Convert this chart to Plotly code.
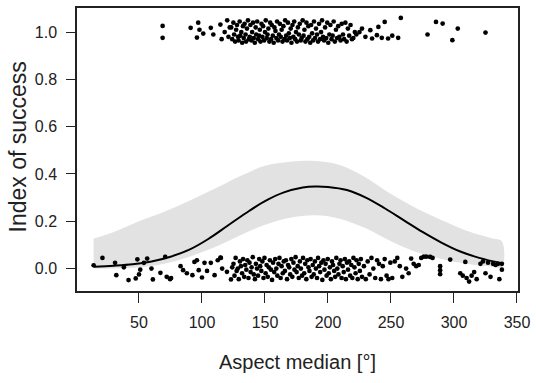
import plotly.graph_objects as go

# ---- data ----
curve_x = [14, 30, 45, 60, 75, 90, 105, 120, 135, 150, 165, 180, 190, 200, 215, 230, 245, 260, 275, 290, 305, 320, 338]
curve_y = [0.008, 0.012, 0.018, 0.030, 0.050, 0.080, 0.125, 0.180, 0.235, 0.285, 0.322, 0.343, 0.347, 0.345, 0.332,
           0.300, 0.255, 0.205, 0.155, 0.110, 0.072, 0.045, 0.022]

band_x = [14, 30, 50, 70, 90, 110, 130, 150, 170, 190, 210, 230, 250, 270, 290, 310, 330, 338]
band_upper = [0.127, 0.155, 0.200, 0.240, 0.287, 0.337, 0.390, 0.435, 0.452, 0.455, 0.437, 0.385, 0.315, 0.255,
              0.205, 0.160, 0.128, 0.115]
band_lower = [0.0, 0.0, 0.005, 0.020, 0.050, 0.090, 0.140, 0.185, 0.215, 0.225, 0.210, 0.170, 0.115, 0.070,
              0.040, 0.020, 0.008, 0.005]

top_x = [68.75, 68.75, 91, 97, 96, 98, 101, 107, 109, 114.6, 115.6, 118, 120, 121, 122,
         123.2, 124.0, 124.9, 125.5, 126.3, 127.1, 127.8, 128.6, 129.0, 129.9, 130.4, 131.2, 131.9, 132.5, 133.1,
         133.8, 134.6, 135.0, 135.7, 136.5, 137.2, 137.9, 138.4, 139.2, 139.8, 140.5, 141.1, 141.9, 142.6, 143.0,
         143.8, 144.5, 145.3, 145.9, 146.4, 147.2, 147.9, 148.5, 149.3, 150.0, 150.6, 151.4, 152.0, 152.7, 153.5,
         154.1, 154.8, 155.4, 156.2, 156.9, 157.5, 158.3, 159.0, 159.6, 160.4, 161.1, 161.8, 162.5, 163.2, 163.9,
         164.6, 165.4, 166.0, 166.8, 167.5, 168.2, 168.9, 169.7, 170.4, 171.0, 171.8, 172.5, 173.2, 174.0, 174.6,
         175.4, 176.1, 176.9, 177.6, 178.4, 179.1, 179.9, 180.6, 181.3, 182.1, 182.9, 183.6, 184.4, 185.1, 185.9,
         186.6, 187.4, 188.2, 188.9, 189.7, 190.5, 191.3, 192.1, 192.9, 193.7, 194.5, 195.3, 196.1, 196.9, 197.7,
         198.6, 199.4, 200.2, 201.1, 201.9, 202.8, 203.7, 204.5, 205.4, 206.3, 207.2, 208.1, 209.0, 210.0, 210.9,
         211.9, 212.8, 213.8, 214.8, 215.8, 216.8, 217.9, 219.0, 220.1, 221.3, 222.5,
         225, 227, 229.7, 233.6, 235, 238.8, 240, 242.7, 245, 247.7, 251, 255.7, 257.8, 279, 285.7, 291, 298.7,
         303, 325]
top_y = [1.026, 0.976, 1.018, 1.04, 0.977, 1.01, 0.994, 1.018, 0.99, 1.032, 0.97, 1.0, 1.05, 0.98, 1.02,
         1.02, 0.97, 1.04, 0.99, 0.96, 1.01, 1.03, 0.98, 0.965, 1.045, 0.985, 1.00, 0.955, 1.025, 0.975,
         1.035, 0.99, 0.96, 1.015, 1.05, 0.97, 0.98, 1.03, 0.965, 1.00, 1.04, 0.975, 0.955, 1.02, 0.99,
         1.045, 0.97, 0.985, 1.01, 0.96, 1.035, 0.98, 1.025, 0.965, 1.00, 1.05, 0.975, 0.99, 1.015, 0.96,
         1.04, 0.97, 1.03, 0.985, 0.955, 1.02, 1.005, 0.975, 1.045, 0.965, 0.99, 1.035, 0.98, 1.01, 0.96,
         1.025, 0.97, 1.05, 0.985, 0.965, 1.04, 0.995, 0.975, 1.015, 0.955, 1.03, 0.98, 1.045, 0.97, 1.00,
         0.96, 1.02, 0.99, 1.035, 0.965, 0.975, 1.05, 0.985, 1.01, 0.96, 1.04, 0.97, 1.025, 0.98, 0.955,
         1.03, 0.995, 0.965, 1.045, 0.975, 1.015, 0.99, 0.96, 1.035, 0.97, 1.00, 1.05, 0.98, 0.965, 1.02,
         0.975, 1.04, 0.955, 0.99, 1.03, 0.97, 0.985, 1.045, 0.96, 1.01, 0.975, 1.025, 0.98, 0.965, 1.035,
         0.99, 0.97, 1.04, 0.96, 1.015, 0.985, 1.03, 0.97, 0.975, 1.00, 0.99,
         1.0, 1.015, 0.98, 1.008, 0.973, 0.987, 1.022, 0.976, 1.043, 0.973, 0.985, 0.976, 1.06, 0.99, 1.043,
         1.036, 0.966, 1.015, 0.998]

bottom_x = [14, 21, 31, 32, 38, 41.7, 47.4, 48.7, 50, 51, 53.9, 56.5, 59.9, 61, 67, 70.8, 72, 74.7, 75.5,
            83, 85, 88, 92.4, 94, 96, 97.4, 100, 102, 104, 107, 110, 112.5, 114.6, 115, 116, 119.8, 123, 124,
            125.0, 125.8, 126.7, 127.5, 128.4, 129.2, 130.1, 130.9, 131.8, 132.6, 133.5, 134.3, 135.2, 136.0,
            136.9, 137.7, 138.6, 139.4, 140.3, 141.1, 142.0, 142.8, 143.7, 144.5, 145.4, 146.2, 147.1, 147.9,
            148.8, 149.6, 150.5, 151.3, 152.2, 153.0, 153.9, 154.7, 155.6, 156.4, 157.3, 158.1, 159.0, 159.8,
            160.7, 161.5, 162.4, 163.2, 164.1, 164.9, 165.8, 166.6, 167.5, 168.3, 169.2, 170.0, 170.9, 171.7,
            172.6, 173.4, 174.3, 175.1, 176.0, 176.8, 177.7, 178.5, 179.4, 180.2, 181.1, 181.9, 182.8, 183.6,
            184.5, 185.3, 186.2, 187.0, 187.9, 188.7, 189.6, 190.4, 191.3, 192.1, 193.0, 193.8, 194.7, 195.5,
            196.4, 197.2, 198.1, 198.9, 199.8, 200.6, 201.5, 202.3, 203.2, 204.0, 204.9, 205.7, 206.6, 207.4,
            208.3, 209.1, 210.0, 210.8, 211.7, 212.5, 213.4, 214.2, 215.1, 215.9, 216.8, 217.6, 218.5, 219.3,
            220.2, 221.0, 221.9, 222.7, 223.6, 224.4, 225.3, 226.1, 227.0, 228.5, 230.0, 231.5, 233.0, 234.5,
            236.0, 237.5, 239.0, 240.5, 242.0, 243.5, 245.0, 246.5, 248.0, 249.5, 251.0, 253.0, 255.0,
            257, 259, 262, 264, 266, 268, 270, 272, 274, 276, 278, 281, 283, 289, 289, 289, 297, 305, 307, 309,
            310, 312, 314, 316, 318, 321, 323, 325, 327, 329, 331, 333, 335, 336, 338, 338]
bottom_y = [0.014, 0.045, 0.024, -0.028, 0.005, -0.049, -0.042, 0.039, -0.025, -0.005, 0.024, 0.042, 0.0, -0.046,
            -0.018, 0.049, -0.035, -0.045, -0.04, 0.01, -0.007, -0.02, -0.028, 0.028, 0.035, -0.007, -0.038, 0.024,
            -0.01, 0.024, -0.028, 0.035, 0.046, 0.045, 0.0, -0.014, -0.046, 0.005,
            0.02, -0.03, 0.045, -0.01, 0.0, -0.045, 0.03, 0.01, -0.02, 0.04, -0.035, 0.015, -0.005, 0.035, -0.04,
            0.025, -0.015, 0.005, 0.048, -0.025, -0.045, 0.02, 0.0, -0.03, 0.04, 0.01, -0.01, 0.03, -0.04, 0.045,
            -0.02, 0.015, -0.035, 0.005, 0.035, -0.005, -0.048, 0.025, -0.015, 0.04, 0.0, -0.03, 0.02, 0.045,
            -0.04, 0.01, -0.02, 0.03, -0.01, 0.035, -0.045, 0.015, 0.005, -0.025, 0.04, -0.035, 0.025, -0.005,
            0.048, -0.015, 0.01, -0.04, 0.03, 0.0, -0.03, 0.045, -0.02, 0.02, -0.045, 0.035, 0.005, -0.01, 0.04,
            -0.035, 0.015, -0.025, 0.03, 0.0, -0.04, 0.045, 0.01, -0.015, 0.025, -0.048, 0.035, -0.005, 0.02,
            -0.03, 0.04, -0.02, 0.005, -0.045, 0.03, 0.015, -0.01, -0.035, 0.045, 0.0, -0.025, 0.02, 0.035,
            -0.04, 0.01, -0.015, 0.04, -0.045, 0.025, -0.005, 0.03, -0.03, 0.015, -0.04, 0.045, 0.005, -0.02,
            0.035, -0.045, 0.02, -0.01, 0.04, -0.035, 0.01, -0.045, 0.03, -0.025, 0.045, 0.0, -0.04, 0.035, 0.02,
            -0.045, 0.01, 0.04, -0.03, -0.045, 0.025, -0.04, 0.03, 0.045,
            0.01, -0.035, 0.0, -0.02, 0.042, 0.02, 0.01, 0.015, 0.045, 0.05, 0.05, 0.049, 0.045, 0.01, -0.007,
            -0.024, 0.038, -0.02, -0.03, 0.028, -0.04, -0.055, -0.03, -0.015, -0.045, 0.02, 0.03, -0.02, 0.025,
            -0.035, 0.02, 0.015, 0.02, -0.045, 0.02, -0.005]

x_ticks = [50, 100, 150, 200, 250, 300, 350]
y_ticks = [0.0, 0.2, 0.4, 0.6, 0.8, 1.0]
y_tick_labels = ["0.0", "0.2", "0.4", "0.6", "0.8", "1.0"]
x_title = "Aspect median [°]"
y_title = "Index of success"

FONT = "Liberation Sans, Arial, sans-serif"

fig = go.Figure()
fig.add_trace(go.Scatter(
    x=band_x + band_x[::-1], y=band_upper + band_lower[::-1],
    fill="toself", fillcolor="#e2e2e2", line=dict(width=0, shape="spline"),
    mode="lines", hoverinfo="skip", showlegend=False))
fig.add_trace(go.Scatter(
    x=curve_x, y=curve_y, mode="lines",
    line=dict(color="black", width=2, shape="spline"), showlegend=False))
fig.add_trace(go.Scatter(
    x=list(top_x) + list(bottom_x), y=list(top_y) + list(bottom_y), mode="markers",
    marker=dict(color="black", size=4.7, line=dict(width=0)), showlegend=False))

fig.update_layout(
    width=536, height=383, autosize=False,
    margin=dict(l=77, r=11, t=6, b=92),
    paper_bgcolor="white", plot_bgcolor="white",
    font=dict(family=FONT, color="black", size=16),
    xaxis=dict(range=[0.8, 350.8], tickvals=x_ticks, ticks="outside", ticklen=10, tickwidth=1.3,
               tickcolor="#222", showline=True, linecolor="#222", linewidth=1.5, mirror=True,
               showgrid=False, zeroline=False, tickfont=dict(size=16, color="#222"),
               ticklabelstandoff=6, ticklabeloverflow="allow"),
    yaxis=dict(range=[-0.095, 1.102], tickvals=y_ticks, ticktext=y_tick_labels, ticks="outside",
               ticklen=9, tickwidth=1.3, tickcolor="#222", showline=True, linecolor="#222",
               linewidth=1.5, mirror=True, showgrid=False, zeroline=False,
               tickfont=dict(size=16, color="#222"), ticklabelstandoff=6),
    annotations=[
        dict(text=x_title, xref="paper", yref="paper", x=0.5, y=0, yshift=-71, showarrow=False,
             font=dict(size=20, color="#222"), xanchor="center", yanchor="middle"),
        dict(text=y_title, xref="paper", yref="paper", x=0, xshift=-60, y=0.5, yshift=2, showarrow=False,
             textangle=-90, font=dict(size=23, color="#222"), xanchor="center", yanchor="middle"),
    ],
)

fig.write_html("out.html", config={"responsive": False, "displayModeBar": False},
               post_script="document.body.style.margin='0';document.body.style.overflow='hidden';")
